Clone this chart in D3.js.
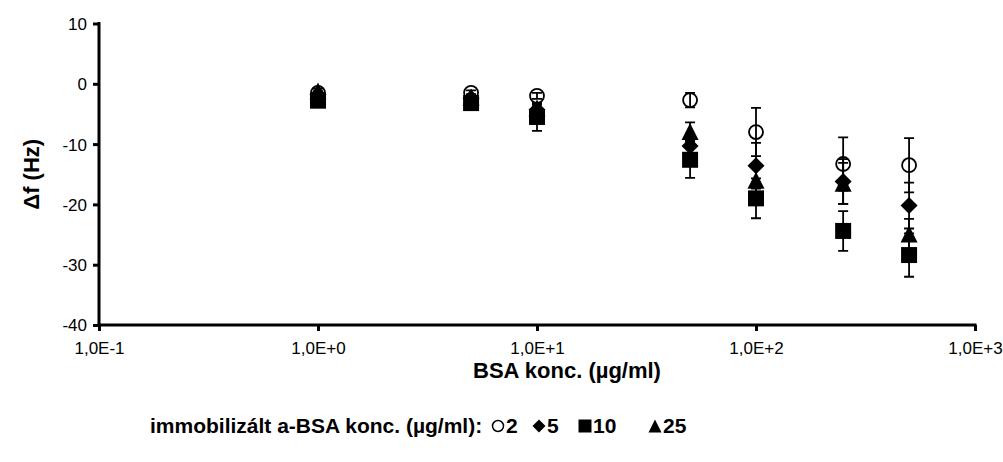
<!DOCTYPE html>
<html>
<head>
<meta charset="utf-8">
<script src="https://cdn.jsdelivr.net/npm/d3@7"></script>
<style>
  html, body { margin: 0; padding: 0; background: #fff; }
  svg { display: block; font-family: "Liberation Sans", Arial, sans-serif; }
</style>
</head>
<body>
<svg id="chart" width="1003" height="462"></svg>
<script>
// BSA concentrations (µg/ml)
const concentrations = [1, 5, 10, 50, 100, 250, 500];

// Frequency shift (Hz) for each immobilised a-BSA concentration, with errors
const shift2  = [-1.5, -1.5, -2.0, -2.7, -8.0, -13.3, -13.5];
const err2    = [0.3, 0.4, 0.5, 1.2, 4.0, 4.4, 4.5];
const shift5  = [-1.8, -2.4, -4.3, -10.3, -13.6, -16.2, -20.2];
const err5    = [0.4, 0.5, 0.8, 1.5, 3.8, 3.7, 3.8];
const shift10 = [-2.8, -3.2, -5.5, -12.6, -19.0, -24.4, -28.4];
const err10   = [0.5, 0.6, 2.3, 3.0, 3.3, 3.3, 3.6];
const shift25 = [-1.2, -2.2, -4.0, -7.9, -16.0, -16.5, -24.9];
const err25   = [0.4, 0.5, 0.8, 1.5, 2.5, 3.4, 2.5];

const seriesNames = ["2", "5", "10", "25"];
const seriesShapes = ["circle", "diamond", "square", "triangle"];

const xTicks = [0.1, 1, 10, 100, 1000];
const xTickLabels = ["1,0E-1", "1,0E+0", "1,0E+1", "1,0E+2", "1,0E+3"];
const yTicks = [10, 0, -10, -20, -30, -40];
const yTickLabels = ["10", "0", "-10", "-20", "-30", "-40"];

const series = [
  { name: seriesNames[0], shape: seriesShapes[0], values: shift2,  errors: err2 },
  { name: seriesNames[1], shape: seriesShapes[1], values: shift5,  errors: err5 },
  { name: seriesNames[2], shape: seriesShapes[2], values: shift10, errors: err10 },
  { name: seriesNames[3], shape: seriesShapes[3], values: shift25, errors: err25 }
];

const svg = d3.select("#chart");
const plot = { left: 99, right: 975, top: 23.5, bottom: 325 };

const x = d3.scaleLog().domain([0.1, 1000]).range([plot.left, plot.right]);
const y = d3.scaleLinear().domain([-40, 10]).range([plot.bottom, plot.top]);

// Marker path builder centred on (0,0); s is the full marker size
function markerPath(shape, s) {
  const h = s / 2;
  switch (shape) {
    case "circle":
      return `M${h},0A${h},${h} 0 1,1 ${-h},0A${h},${h} 0 1,1 ${h},0Z`;
    case "diamond":
      return `M0,${-h}L${h},0L0,${h}L${-h},0Z`;
    case "square":
      return `M${-h},${-h}H${h}V${h}H${-h}Z`;
    case "triangle":
      return `M0,${-h}L${h},${h}H${-h}Z`;
  }
}
function markerStyle(sel, shape) {
  if (shape === "circle") {
    sel.attr("fill", "none").attr("stroke", "#000").attr("stroke-width", 1.8);
  } else {
    sel.attr("fill", "#000").attr("stroke", "none");
  }
}
const markerSize = { circle: 14, diamond: 17, square: 16, triangle: 17 };

// Axes
const yAxis = d3.axisLeft(y).tickValues(yTicks).tickFormat((d, i) => yTickLabels[i])
  .tickSize(6).tickSizeOuter(0).tickPadding(6);
const xAxis = d3.axisBottom(x).tickValues(xTicks).tickFormat((d, i) => xTickLabels[i])
  .tickSize(6).tickSizeOuter(0).tickPadding(11);

const gy = svg.append("g").attr("transform", `translate(${plot.left},0)`).call(yAxis);
const gx = svg.append("g").attr("transform", `translate(0,${plot.bottom})`).call(xAxis);
[gx, gy].forEach(g => {
  g.select(".domain").attr("stroke", "#000").attr("stroke-width", 3);
  g.selectAll(".tick line").attr("stroke", "#000").attr("stroke-width", 3);
  g.selectAll(".tick text").attr("fill", "#000").attr("font-size", 17)
    .attr("font-family", "'Liberation Sans', Arial, sans-serif");
});
gx.select(".domain").attr("d", `M${plot.left - 1.5},0H${plot.right + 1.5}`);
gy.select(".domain").attr("d", `M0,${plot.top - 1.5}V${plot.bottom + 1.5}`);
gy.selectAll(".tick text").attr("dy", "0.35em");

// Error bars
const cap = 5;
series.forEach(s => {
  const g = svg.append("g").attr("class", "err");
  concentrations.forEach((c, i) => {
    const cx = x(c), v = s.values[i], e = s.errors[i];
    const y1 = y(v + e), y2 = y(v - e);
    g.append("path")
      .attr("d", `M${cx},${y1}V${y2}M${cx - cap},${y1}H${cx + cap}M${cx - cap},${y2}H${cx + cap}`)
      .attr("stroke", "#000").attr("stroke-width", 1.8).attr("fill", "none");
  });
});

// Markers
series.forEach(s => {
  svg.append("g").attr("class", "markers")
    .selectAll("path").data(concentrations).join("path")
    .attr("transform", (c, i) => `translate(${x(c)},${y(s.values[i])})`)
    .attr("d", markerPath(s.shape, markerSize[s.shape]))
    .call(markerStyle, s.shape);
});

// Axis titles
svg.append("text")
  .attr("transform", `translate(39,${(plot.top + plot.bottom) / 2}) rotate(-90)`)
  .attr("text-anchor", "middle")
  .attr("font-size", 22).attr("font-weight", "bold")
  .text("Δf (Hz)");

svg.append("text")
  .attr("x", 567).attr("y", 378)
  .attr("text-anchor", "middle")
  .attr("font-size", 22).attr("font-weight", "bold")
  .text("BSA konc. (µg/ml)");

// Legend
const legend = svg.append("g").attr("font-size", 21).attr("font-weight", "bold");
legend.append("text").attr("x", 150).attr("y", 433).text("immobilizált a-BSA konc. (µg/ml):");
const legendX = [498, 539, 585, 655];
series.forEach((s, i) => {
  const lx = legendX[i];
  legend.append("path")
    .attr("transform", `translate(${lx},426)`)
    .attr("d", markerPath(s.shape, s.shape === "circle" ? 11 : 13))
    .call(markerStyle, s.shape)
    .attr("stroke-width", s.shape === "circle" ? 1.5 : null);
  legend.append("text").attr("x", lx + 8).attr("y", 433).text(s.name);
});
</script>
</body>
</html>
